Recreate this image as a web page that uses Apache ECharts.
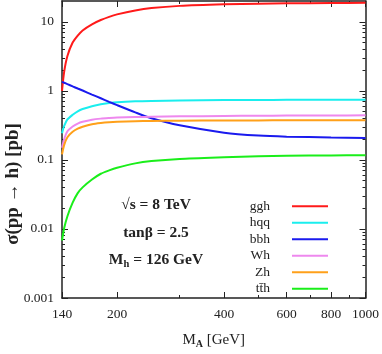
<!DOCTYPE html>
<html><head><meta charset="utf-8">
<script src="https://cdn.jsdelivr.net/npm/echarts@6/dist/echarts.min.js"></script>
<style>html,body{margin:0;padding:0;background:#fff}#c{width:382px;height:354px}</style>
</head><body><div id="c"></div>
<script>
// M_A [GeV]
const masses = [140,142,145,150,155,160,170,180,190,200,225,250,300,400,500,600,800,1000];
const ggh = [1.0,1.9,3.2,5.0,6.3,7.5,9.2,10.6,11.8,12.8,14.6,15.8,17.0,17.9,18.3,18.5,18.7,18.8];
const hqq = [0.243,0.31,0.385,0.45,0.505,0.545,0.60,0.64,0.665,0.683,0.705,0.715,0.725,0.735,0.738,0.74,0.743,0.745];
const bbh = [1.35,1.31,1.25,1.16,1.08,1.01,0.883,0.78,0.693,0.621,0.488,0.401,0.317,0.248,0.225,0.217,0.211,0.208];
const wh  = [0.150,0.20,0.26,0.305,0.336,0.356,0.382,0.396,0.404,0.41,0.417,0.421,0.427,0.433,0.436,0.438,0.44,0.442];
const zh  = [0.12,0.165,0.213,0.255,0.283,0.302,0.329,0.343,0.352,0.357,0.363,0.366,0.369,0.372,0.373,0.374,0.375,0.376];
const tth = [0.0068,0.0103,0.0153,0.024,0.033,0.040,0.052,0.063,0.0705,0.077,0.089,0.096,0.103,0.109,0.113,0.115,0.116,0.117];

const seriesNames = ['ggh','hqq','bbh','Wh','Zh','tt\u0304h'];
const seriesValues = [ggh,hqq,bbh,wh,zh,tth];
const seriesColors = ['#ff1a1a','#1aeeee','#1a1aee','#ee88ee','#ffa01a','#1aee1a'];

const xMajor = [140,200,400,600,800,1000];
const xMinor = [300,500,700,900];
const yMajor = [0.001,0.01,0.1,1,10];
const yMinor = [];
[0.001,0.01,0.1,1].forEach(d=>{for(let k=2;k<=9;k++) yMinor.push(+(d*k).toPrecision(3));});

const FONT = 'Liberation Serif';
const axisCol = '#222';

function xAx(pos, ticks, len, labels, line){
  return {type:'log', logBase:10, min:140, max:1000, position:pos,
    axisLine:{show:line, onZero:false, lineStyle:{color:axisCol, width:1.5}},
    axisTick:{show:true, inside:true, length:len, customValues:ticks, lineStyle:{color:axisCol, width:1}},
    axisLabel:{show:labels, customValues:ticks, margin:9, color:'#222', fontFamily:FONT, fontSize:13.5,
      formatter:v=>String(Math.round(v))},
    splitLine:{show:false}, minorTick:{show:false}, minorSplitLine:{show:false}};
}
function yAx(pos, ticks, len, labels, line){
  return {type:'log', logBase:10, min:0.001, max:20, position:pos,
    axisLine:{show:line, onZero:false, lineStyle:{color:axisCol, width:1.5}},
    axisTick:{show:true, inside:true, length:len, customValues:ticks, lineStyle:{color:axisCol, width:1}},
    axisLabel:{show:labels, customValues:ticks, margin:8, color:'#222', fontFamily:FONT, fontSize:13.5,
      formatter:v=>String(+v.toPrecision(3))},
    splitLine:{show:false}, minorTick:{show:false}, minorSplitLine:{show:false}};
}

const xAxes = [xAx('bottom',xMajor,6,true,true), xAx('bottom',xMinor,3,false,false),
               xAx('top',xMajor,6,false,true), xAx('top',xMinor,3,false,false)];
xAxes[0].name = '{m|M}{s|A}{m| [GeV]}';
xAxes[0].nameLocation = 'middle';
xAxes[0].nameGap = 33;
xAxes[0].nameTextStyle = {rich:{m:{fontFamily:FONT,fontSize:15,color:'#222'}, s:{fontFamily:FONT,fontSize:10,fontWeight:'bold',color:'#222',padding:[8,0,0,0]}}};

const yAxes = [yAx('left',yMajor,6,true,true), yAx('left',yMinor,3,false,false),
               yAx('right',yMajor,6,false,true), yAx('right',yMinor,3,false,false)];

const chart = echarts.init(document.getElementById('c'), null, {renderer:'canvas'});
chart.setOption({
  animation:false,
  backgroundColor:'#fff',
  grid:{left:62, right:15, top:1, bottom:51, show:false},
  xAxis:xAxes,
  yAxis:yAxes,
  legend:{orient:'vertical', right:54, top:198, height:140, align:'right', itemWidth:36, itemHeight:2, itemGap:0,
    icon:'rect', padding:0, textStyle:{fontFamily:FONT, fontSize:13.5, color:'#222', lineHeight:16.5, padding:[0,17,0,0]},
    data:seriesNames},
  graphic:[
    {type:'text', x:13, y:184, rotation:Math.PI/2, style:{text:'σ(pp → h) [pb]', x:0, y:0, fontFamily:FONT, fontSize:19, fontWeight:'bold', fill:'#222', align:'center', verticalAlign:'middle'}},
    {type:'text', style:{text:'√s = 8 TeV', x:156, y:205, fontFamily:FONT, fontSize:15.5, fontWeight:'bold', fill:'#222', align:'center', verticalAlign:'middle'}},
    {type:'text', style:{text:'tanβ = 2.5', x:156, y:233, fontFamily:FONT, fontSize:15.5, fontWeight:'bold', fill:'#222', align:'center', verticalAlign:'middle'}},
    {type:'text', style:{x:156, y:260, text:'{m|M}{s|h}{m| = 126 GeV}', align:'center', verticalAlign:'middle',
      rich:{m:{fontFamily:FONT,fontSize:15.5,fontWeight:'bold',fill:'#222'}, s:{fontFamily:FONT,fontSize:10.5,fontWeight:'bold',fill:'#222',padding:[8,0,0,0]}}}}
  ],
  series: seriesNames.map((n,i)=>({
    name:n, type:'line', xAxisIndex:0, yAxisIndex:0, smooth:0.25, showSymbol:false, symbol:'none',
    color:seriesColors[i], lineStyle:{width:2, color:seriesColors[i]},
    data: masses.map((m,j)=>[m, seriesValues[i][j]])
  }))
});
</script></body></html>
